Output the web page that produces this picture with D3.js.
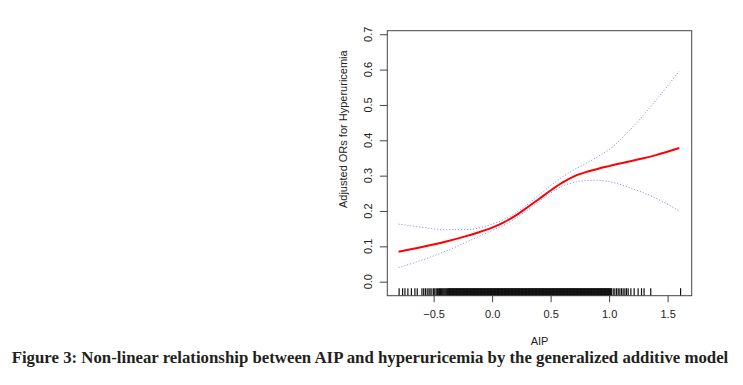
<!DOCTYPE html>
<html>
<head>
<meta charset="utf-8">
<script src="https://cdn.jsdelivr.net/npm/d3@7"></script>
<style>
  body { margin: 0; background: #fff; }
</style>
</head>
<body>
<svg id="gam" width="743" height="385"></svg>
<script>
// values
const aipGrid  = [-0.8, -0.6, -0.4, -0.2, 0.0, 0.1, 0.2, 0.3, 0.4, 0.5, 0.6, 0.7, 0.8, 0.9, 1.0, 1.2, 1.4, 1.6];
const fitOR    = [0.085, 0.098, 0.113, 0.131, 0.153, 0.168, 0.187, 0.210, 0.234, 0.258, 0.280, 0.298, 0.310, 0.319, 0.327, 0.342, 0.358, 0.378];
const upperOR  = [0.163, 0.154, 0.147, 0.148, 0.163, 0.176, 0.194, 0.218, 0.245, 0.272, 0.296, 0.317, 0.334, 0.353, 0.374, 0.437, 0.513, 0.596];
const lowerOR  = [0.040, 0.061, 0.086, 0.115, 0.145, 0.160, 0.179, 0.202, 0.227, 0.251, 0.270, 0.281, 0.286, 0.287, 0.283, 0.263, 0.236, 0.200];

const xTicks = [-0.5, 0.0, 0.5, 1.0, 1.5];
const yTicks = [0.0, 0.1, 0.2, 0.3, 0.4, 0.5, 0.6, 0.7];

// observed AIP values (rug): sparse low tail, dense middle, sparse high tail
const rugLow = [
  -0.795, -0.765, -0.745, -0.72, -0.69, -0.66, -0.64, -0.60, -0.585, -0.57,
  -0.555, -0.54, -0.53, -0.515, -0.50, -0.49, -0.478, -0.468, -0.46, -0.45,
  -0.442, -0.434, -0.426, -0.418, -0.41, -0.402, -0.395, -0.388
];
const rugMid = [
  -0.380, -0.375, -0.370, -0.365, -0.360, -0.355, -0.350, -0.345, -0.340, -0.335,
  -0.330, -0.325, -0.320, -0.315, -0.310, -0.305, -0.300, -0.295, -0.290, -0.285,
  -0.280, -0.275, -0.270, -0.265, -0.260, -0.255, -0.250, -0.245, -0.240, -0.235,
  -0.230, -0.225, -0.220, -0.215, -0.210, -0.205, -0.200, -0.195, -0.190, -0.185,
  -0.180, -0.175, -0.170, -0.165, -0.160, -0.155, -0.150, -0.145, -0.140, -0.135,
  -0.130, -0.125, -0.120, -0.115, -0.110, -0.105, -0.100, -0.095, -0.090, -0.085,
  -0.080, -0.075, -0.070, -0.065, -0.060, -0.055, -0.050, -0.045, -0.040, -0.035,
  -0.030, -0.025, -0.020, -0.015, -0.010, -0.005, 0.000, 0.005, 0.010, 0.015,
  0.020, 0.025, 0.030, 0.035, 0.040, 0.045, 0.050, 0.055, 0.060, 0.065,
  0.070, 0.075, 0.080, 0.085, 0.090, 0.095, 0.100, 0.105, 0.110, 0.115,
  0.120, 0.125, 0.130, 0.135, 0.140, 0.145, 0.150, 0.155, 0.160, 0.165,
  0.170, 0.175, 0.180, 0.185, 0.190, 0.195, 0.200, 0.205, 0.210, 0.215,
  0.220, 0.225, 0.230, 0.235, 0.240, 0.245, 0.250, 0.255, 0.260, 0.265,
  0.270, 0.275, 0.280, 0.285, 0.290, 0.295, 0.300, 0.305, 0.310, 0.315,
  0.320, 0.325, 0.330, 0.335, 0.340, 0.345, 0.350, 0.355, 0.360, 0.365,
  0.370, 0.375, 0.380, 0.385, 0.390, 0.395, 0.400, 0.405, 0.410, 0.415,
  0.420, 0.425, 0.430, 0.435, 0.440, 0.445, 0.450, 0.455, 0.460, 0.465,
  0.470, 0.475, 0.480, 0.485, 0.490, 0.495, 0.500, 0.505, 0.510, 0.515,
  0.520, 0.525, 0.530, 0.535, 0.540, 0.545, 0.550, 0.555, 0.560, 0.565,
  0.570, 0.575, 0.580, 0.585, 0.590, 0.595, 0.600, 0.605, 0.610, 0.615,
  0.620, 0.625, 0.630, 0.635, 0.640, 0.645, 0.650, 0.655, 0.660, 0.665,
  0.670, 0.675, 0.680, 0.685, 0.690, 0.695, 0.700, 0.705, 0.710, 0.715,
  0.720, 0.725, 0.730, 0.735, 0.740, 0.745, 0.750, 0.755, 0.760, 0.765,
  0.770, 0.775, 0.780, 0.785, 0.790, 0.795, 0.800, 0.805, 0.810, 0.815,
  0.820, 0.825, 0.830, 0.835, 0.840, 0.845, 0.850, 0.855, 0.860, 0.865,
  0.870, 0.875, 0.880, 0.885, 0.890, 0.895, 0.900, 0.905, 0.910, 0.915,
  0.920, 0.925, 0.930, 0.935, 0.940, 0.945, 0.950, 0.955, 0.960, 0.965,
  0.970, 0.975, 0.980, 0.985, 0.990, 0.995, 1.000, 1.005, 1.010, 1.015, 1.020
];
const rugHigh = [
  1.035, 1.049, 1.064, 1.078, 1.092, 1.106, 1.12, 1.135, 1.149, 1.163,
  1.186, 1.214, 1.248, 1.277, 1.299, 1.356, 1.611
];

const svg = d3.select("#gam");

const x = d3.scaleLinear().domain([-0.896, 1.706]).range([387.3, 691.7]);
const y = d3.scaleLinear().domain([-0.0396, 0.710]).range([295.7, 30.7]);

const tickFont = "'Liberation Sans', Arial, sans-serif";

// rug
svg.append("g")
    .selectAll("line")
    .data(rugLow.concat(rugMid, rugHigh))
    .enter().append("line")
    .attr("x1", d => x(d)).attr("x2", d => x(d))
    .attr("y1", y.range()[0]).attr("y2", y.range()[0] - 7.5)
    .attr("stroke", "#111")
    .attr("stroke-width", 1.2);

// confidence band (dotted) and fitted curve
const line = d3.line()
    .x(d => x(d[0]))
    .y(d => y(d[1]))
    .curve(d3.curveMonotoneX);

const upper = aipGrid.map((v, i) => [v, upperOR[i]]);
const lower = aipGrid.map((v, i) => [v, lowerOR[i]]);
const fit = aipGrid.map((v, i) => [v, fitOR[i]]);

[upper, lower].forEach(s => {
    svg.append("path")
        .datum(s)
        .attr("d", line)
        .attr("fill", "none")
        .attr("stroke", "#5050ff")
        .attr("stroke-opacity", 0.75)
        .attr("stroke-width", 1)
        .attr("stroke-dasharray", "1,2");
});

svg.append("path")
    .datum(fit)
    .attr("d", line)
    .attr("fill", "none")
    .attr("stroke", "#ff0000")
    .attr("stroke-width", 2);

// box
svg.append("rect")
    .attr("x", x.range()[0]).attr("y", y.range()[1])
    .attr("width", x.range()[1] - x.range()[0])
    .attr("height", y.range()[0] - y.range()[1])
    .attr("fill", "none")
    .attr("stroke", "#444")
    .attr("stroke-width", 1);

// x axis
const xAxis = svg.append("g")
    .attr("transform", "translate(0," + y.range()[0] + ")")
    .call(d3.axisBottom(x).tickValues(xTicks).tickSize(6.5).tickPadding(8).tickFormat(d3.format(".1f")));
xAxis.select(".domain").remove();
xAxis.selectAll("line").attr("stroke", "#444");
xAxis.selectAll("text").attr("font-family", tickFont).attr("font-size", 11).attr("fill", "#222");

// y axis
const yAxis = svg.append("g")
    .attr("transform", "translate(" + x.range()[0] + ",0)")
    .call(d3.axisLeft(y).tickValues(yTicks).tickSize(7.5).tickFormat(""));
yAxis.select(".domain").remove();
yAxis.selectAll("line").attr("stroke", "#444");

svg.append("g")
    .selectAll("text")
    .data(yTicks)
    .enter().append("text")
    .attr("transform", d => "translate(372," + y(d) + ") rotate(-90)")
    .attr("text-anchor", "middle")
    .attr("font-family", tickFont)
    .attr("font-size", 11)
    .attr("fill", "#222")
    .text(d3.format(".1f"));

// axis titles
svg.append("text")
    .attr("x", 539.5).attr("y", 344.6)
    .attr("text-anchor", "middle")
    .attr("font-family", tickFont)
    .attr("font-size", 11)
    .attr("fill", "#222")
    .text("AIP");

svg.append("text")
    .attr("transform", "translate(347,129.2) rotate(-90)")
    .attr("text-anchor", "middle")
    .attr("font-family", tickFont)
    .attr("font-size", 11)
    .attr("fill", "#222")
    .text("Adjusted ORs for Hyperuricemia");

// caption
svg.append("text")
    .attr("x", 11.7).attr("y", 363.3)
    .attr("font-family", "'Liberation Serif', 'Times New Roman', serif")
    .attr("font-weight", "bold")
    .attr("font-size", 16.5)
    .attr("fill", "#231f20")
    .attr("textLength", 716.6)
    .attr("lengthAdjust", "spacingAndGlyphs")
    .text("Figure 3: Non-linear relationship between AIP and hyperuricemia by the generalized additive model");
</script>
</body>
</html>
